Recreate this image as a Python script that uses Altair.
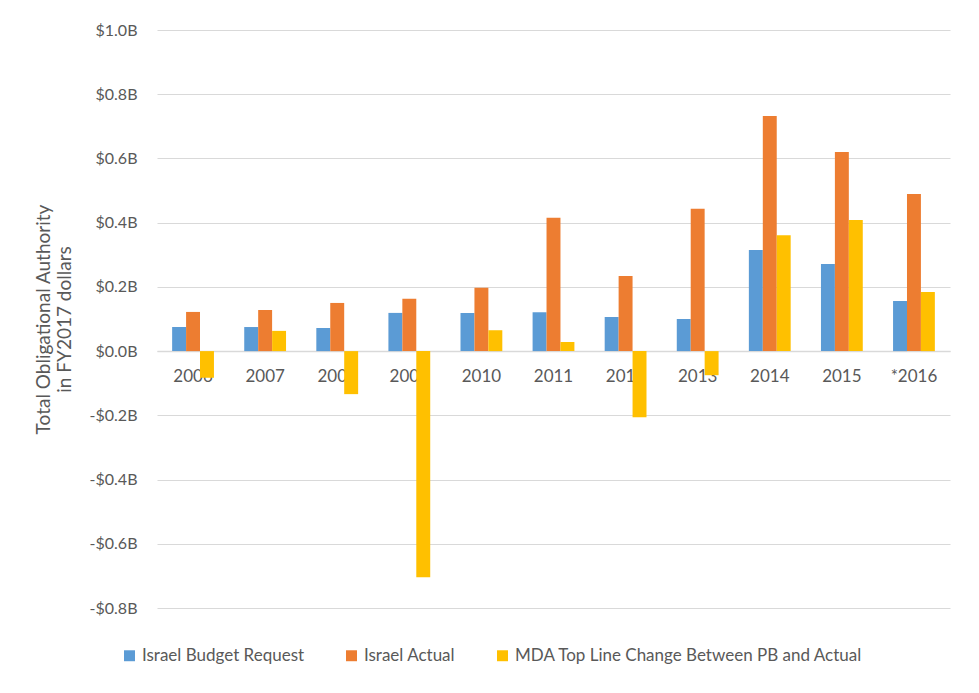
import altair as alt
import pandas as pd

years = ["2006", "2007", "2008", "2009", "2010", "2011", "2012", "2013", "2014", "2015", "*2016"]
budget_request = [0.075, 0.075, 0.072, 0.119, 0.119, 0.121, 0.106, 0.100, 0.315, 0.271, 0.156]
israel_actual = [0.122, 0.128, 0.150, 0.163, 0.197, 0.415, 0.234, 0.443, 0.732, 0.620, 0.489]
mda_change = [-0.083, 0.063, -0.134, -0.704, 0.065, 0.028, -0.206, -0.075, 0.361, 0.408, 0.184]
series = ["Israel Budget Request", "Israel Actual", "MDA Top Line Change Between PB and Actual"]
colors = ["#5B9BD5", "#ED7D31", "#FFC000"]
y_ticks = [-0.8, -0.6, -0.4, -0.2, 0.0, 0.2, 0.4, 0.6, 0.8, 1.0]

rows = []
for i, yr in enumerate(years):
    for s, vals in zip(series, [budget_request, israel_actual, mda_change]):
        rows.append({"year": yr, "series": s, "value": vals[i]})
df = pd.DataFrame(rows)

FONT = "Lato"
GRAY = "#595959"

chart = alt.Chart(df).mark_bar().encode(
    x=alt.X("year:N", sort=years,
            scale=alt.Scale(paddingInner=0.42, paddingOuter=0.21),
            axis=alt.Axis(title=None, labelAngle=0, ticks=False, offset=-257,
                          domainColor="#D9D9D9", domainWidth=1.5,
                          labelPadding=17, labelFontSize=17, labelColor=GRAY,
                          labelFont=FONT)),
    xOffset=alt.XOffset("series:N", sort=series),
    y=alt.Y("value:Q",
            scale=alt.Scale(domain=[-0.8, 1.0], nice=False, zero=False),
            axis=alt.Axis(values=y_ticks, ticks=False, domain=False,
                          gridColor="#D9D9D9", gridWidth=1,
                          labelExpr="(datum.value < -0.0001 ? '-$' + format(abs(datum.value), '.1f') : '$' + format(abs(datum.value), '.1f')) + 'B'",
                          labelPadding=20, labelFontSize=16, labelColor=GRAY, labelFont=FONT,
                          title=["Total Obligational Authority", "in FY2017 dollars"],
                          titleFontSize=19, titleFontWeight="normal", titleColor=GRAY,
                          titleFont=FONT, titlePadding=15, titleLineHeight=21)),
    color=alt.Color("series:N", sort=series,
                    scale=alt.Scale(domain=series, range=colors),
                    legend=alt.Legend(title=None, orient="none", direction="horizontal",
                                      legendX=-36, legendY=617,
                                      symbolType="square", symbolSize=120,
                                      symbolStrokeWidth=0, labelFontSize=17,
                                      labelColor=GRAY, labelFont=FONT,
                                      columnPadding=38, labelOffset=4, labelLimit=400)),
).properties(
    width=793,
    height=578,
    autosize=alt.AutoSizeParams(type="none"),
    padding={"left": 149, "top": 22, "right": 21, "bottom": 77},
).configure_view(stroke=None)

chart.save("out.html", embed_options={"renderer": "svg", "actions": False})
